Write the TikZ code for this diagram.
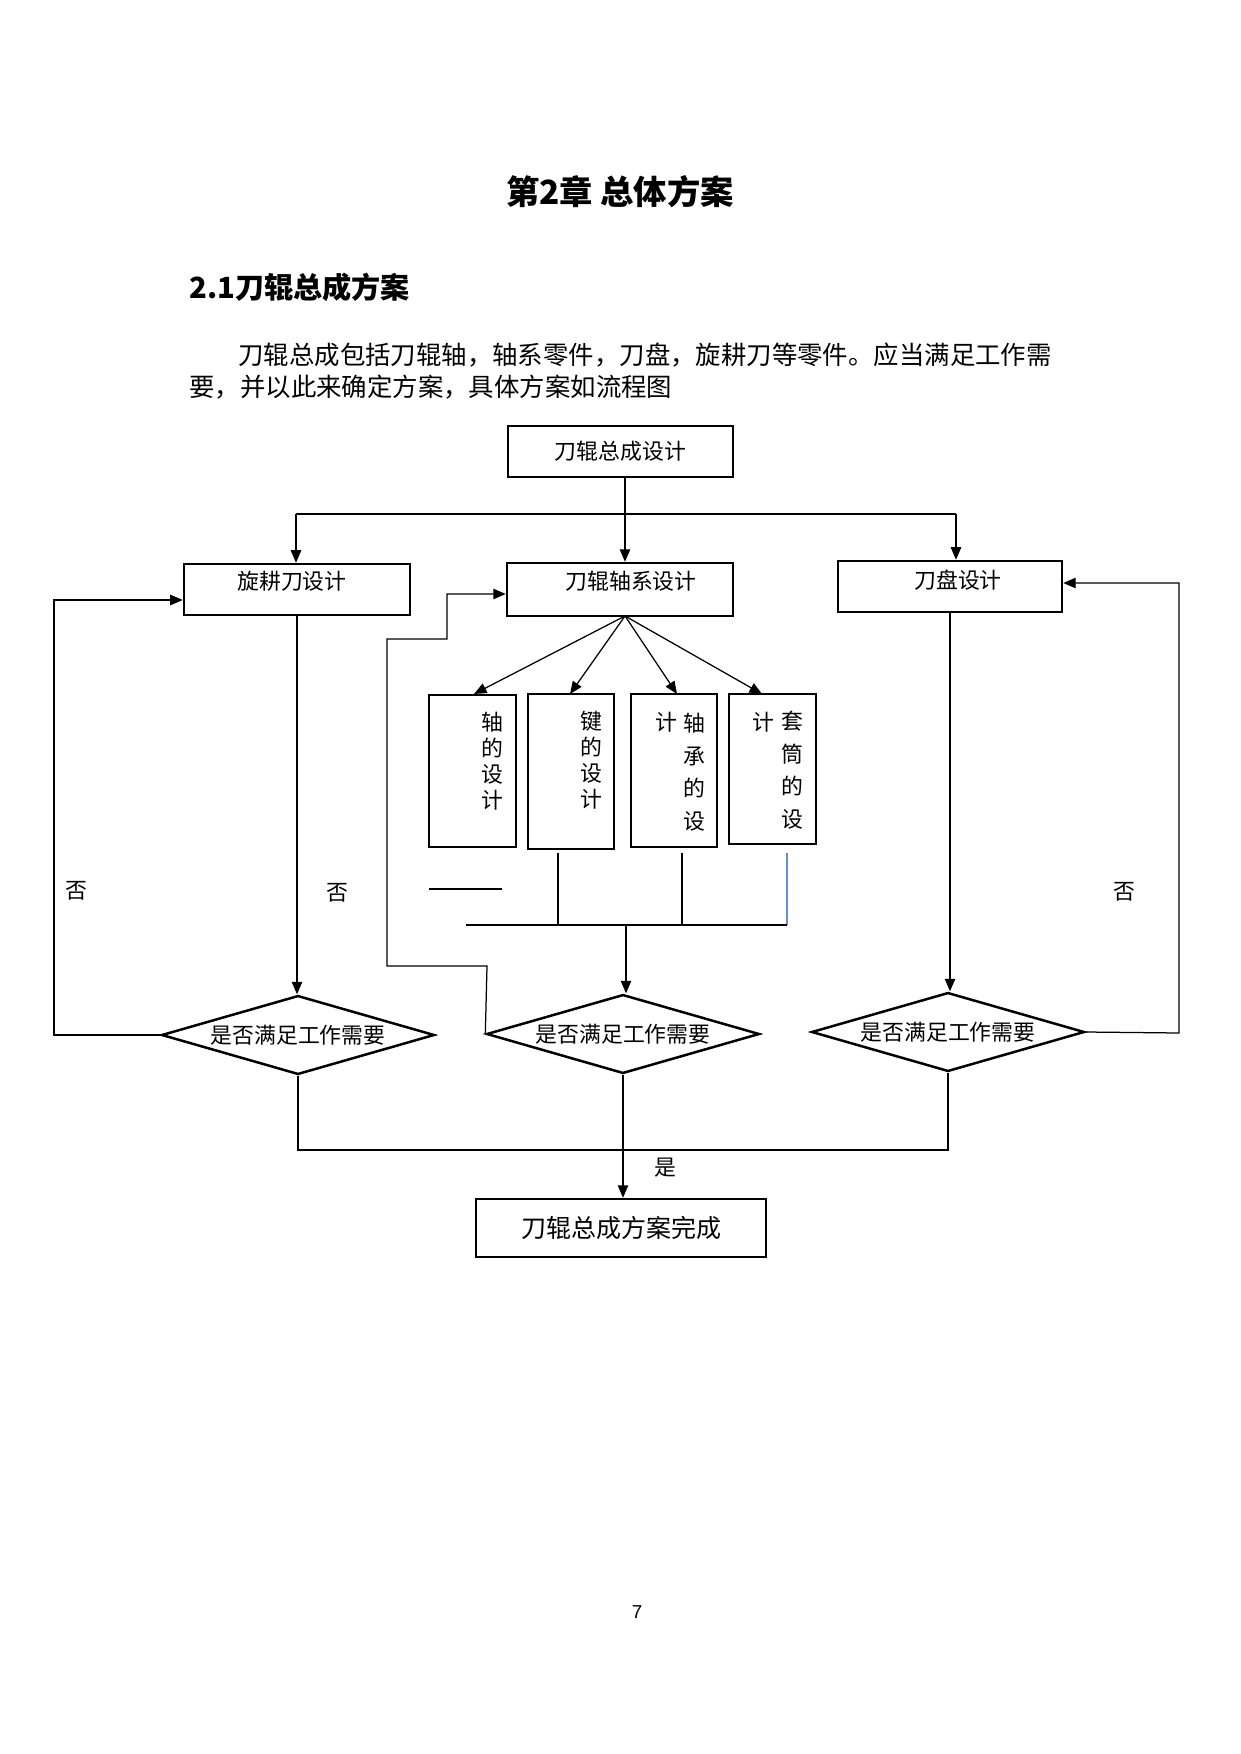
\documentclass[tikz,border=0pt]{standalone}
\usepackage{fontspec}
\setmainfont{Noto Sans CJK SC}
\newfontfamily\latinsans{Liberation Sans}
\usetikzlibrary{arrows.meta,shapes.geometric}
\definecolor{lineblue}{RGB}{105,140,215}
\begin{document}
\begin{tikzpicture}[x=0.48006pt,y=-0.48006pt,
  fs/.style={font=\fontsize{10.5}{12}\selectfont},
  tbox/.style={draw, line width=1.2pt, inner sep=0pt, fs},
  sbox/.style={draw, line width=0.8pt, inner sep=0pt},
  dia/.style={draw, diamond, line width=1.2pt, inner sep=0pt, aspect=3.4,
              minimum width=131pt, minimum height=37.9pt, fs},
  conn/.style={line width=0.6pt},
  arr/.style={conn, -{Triangle[length=6pt,width=5pt]}},
  lab/.style={inner sep=0pt, fs},
  vcolA/.style={inner sep=0pt, align=center, font=\fontsize{10.5}{12.5}\selectfont},
  vcolC/.style={inner sep=0pt, align=center, font=\fontsize{10.5}{15.6}\selectfont},
]
\useasboundingbox (0,0) rectangle (1240,1754);

% header texts
\node[inner sep=0pt, font=\bfseries\fontsize{16}{20}\selectfont] (title) at (620,192) {第2章\ 总体方案};
\node[inner sep=0pt, anchor=west, font=\bfseries\fontsize{14}{18}\selectfont] (sec) at (189,287) {2.1刀辊总成方案};
\node[inner sep=0pt, anchor=west, font=\fontsize{12.2}{14}\selectfont] (p1) at (238,355) {刀辊总成包括刀辊轴，轴系零件，刀盘，旋耕刀等零件。应当满足工作需};
\node[inner sep=0pt, anchor=west, font=\fontsize{12.2}{14}\selectfont] (p2) at (189,387) {要，并以此来确定方案，具体方案如流程图};

% main boxes
\node[tbox, minimum width=108pt, minimum height=24.5pt] (top) at (620.5,451.5) {刀辊总成设计};
\node[tbox, minimum width=108.5pt, minimum height=24.5pt] (left) at (297,589.5) {};
\node[tbox, minimum width=108.5pt, minimum height=25.4pt] (mid) at (620,589.5) {};
\node[tbox, minimum width=107.5pt, minimum height=24.5pt] (right) at (950,586.5) {};
\node[lab] (leftT) at (292,581) {旋耕刀设计};
\node[lab] (midT) at (631,581) {刀辊轴系设计};
\node[lab] (rightT) at (958,580) {刀盘设计};

% sub boxes
\node[sbox, minimum width=41.8pt, minimum height=73pt] (sA) at (472.5,771) {};
\node[sbox, minimum width=41.3pt, minimum height=74.4pt] (sB) at (571,771.5) {};
\node[sbox, minimum width=41.3pt, minimum height=73.4pt] (sC) at (674,770.5) {};
\node[sbox, minimum width=41.8pt, minimum height=72pt] (sD) at (772.5,769) {};
\node[vcolA] (tA) at (492,761) {轴\\的\\设\\计};
\node[vcolA] (tB) at (591,760) {键\\的\\设\\计};
\node[vcolC] (tC) at (694,772) {轴\\承\\的\\设};
\node[lab] (tC2) at (666,722) {计};
\node[vcolC] (tD) at (792,770) {套\\筒\\的\\设};
\node[lab] (tD2) at (763,722) {计};

% diamonds
\node[dia] (d1) at (298,1035) {是否满足工作需要};
\node[dia] (d2) at (623,1034) {是否满足工作需要};
\node[dia] (d3) at (948,1032) {是否满足工作需要};

% final box
\node[tbox, minimum width=139.2pt, minimum height=27.8pt, font=\fontsize{12}{14}\selectfont] (fin) at (621,1228) {刀辊总成方案完成};

% labels
\node[lab] (no1) at (76,891) {否};
\node[lab] (no2) at (337,893) {否};
\node[lab] (no3) at (1124,892) {否};
\node[lab] (yes) at (665,1168) {是};
\node[inner sep=0pt, font=\latinsans\fontsize{9}{11}\selectfont] (pg) at (637,1612) {7};

% coordinates
\coordinate (mx) at (625,0);
\coordinate (tbl) at (296,514);
\coordinate (tbr) at (956,514);
\coordinate (L1) at (54,1035);
\coordinate (L2) at (54,600);
\coordinate (R1) at (1179,1033);
\coordinate (R2) at (1179,583);
\coordinate (M1) at (487,966);
\coordinate (M2) at (387,966);
\coordinate (M3) at (387,639);
\coordinate (M4) at (447,639);
\coordinate (M5) at (447,594);
\coordinate (tipA) at (474,694);
\coordinate (tipB) at (570,694);
\coordinate (tipC) at (677,694);
\coordinate (tipD) at (762,694);
\coordinate (fan) at (625,616);
\coordinate (s1) at (429,889);
\coordinate (s2) at (502,889);
\coordinate (vB1) at (558,853);
\coordinate (vB2) at (558,925);
\coordinate (vC1) at (682,853);
\coordinate (vC2) at (682,925);
\coordinate (vD1) at (787,853);
\coordinate (vD2) at (787,925);
\coordinate (bar1) at (466,925);
\coordinate (J) at (626,925);
\coordinate (B1) at (300,1150);
\coordinate (B2) at (946,1150);

% top distribution
\draw[arr] (top.south -| mx) -- (mid.north -| mx);
\draw[conn] (tbl) -- (tbr);
\draw[arr] (tbl) -- (left.north -| tbl);
\draw[arr] (tbr) -- (right.north -| tbr);

% left column
\draw[arr] (left.south) -- (left.south |- d1.north);
\draw[arr] (d1.west) -- (L1) -- (L2) -- (L2 -| left.west);

% right column
\draw[arr] (right.south) -- (right.south |- d3.north);
\draw[arr] (d3.east) -- (R1) -- (R2) -- (R2 -| right.east);

% middle fan
\draw[arr] (fan) -- (tipA);
\draw[arr] (fan) -- (tipB);
\draw[arr] (fan) -- (tipC);
\draw[arr] (fan) -- (tipD);
\draw[conn] (s1) -- (s2);
\draw[conn] (vB1) -- (vB2);
\draw[conn] (vC1) -- (vC2);
\draw[conn, lineblue] (vD1) -- (vD2);
\draw[conn] (bar1) -- (vD2);
\draw[arr] (J) -- (J |- d2.north);

% middle loop
\draw[arr] (d2.west) -- (M1) -- (M2) -- (M3) -- (M4) -- (M5) -- (M5 -| mid.west);

% bottom merge
\draw[conn] (d1.south) -- (d1.south |- B1) -- (B2 -| d3.south) -- (d3.south);
\draw[arr] (d2.south) -- (d2.south |- fin.north);
\end{tikzpicture}
\end{document}
